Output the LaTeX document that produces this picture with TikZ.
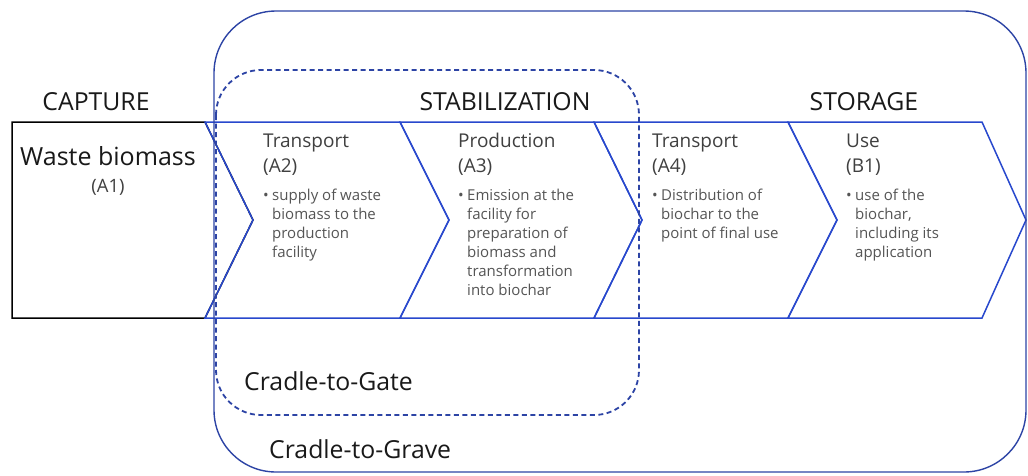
\documentclass[tikz,border=0pt]{standalone}
\usepackage{fontspec}
\setmainfont{Open Sans}
\definecolor{cblue}{RGB}{40,72,205}
\definecolor{rblue}{RGB}{45,68,165}
\definecolor{ttl}{RGB}{64,64,64}
\definecolor{bul}{RGB}{85,85,85}
\definecolor{hdr}{RGB}{25,25,25}
\begin{document}
\begin{tikzpicture}[x=1pt,y=-1pt,
  chev/.style={draw=cblue,line width=1.5pt,line join=miter},
  grave/.style={draw=rblue,line width=1.4pt,rounded corners=62pt},
  gate/.style={draw=rblue,line width=1.8pt,dash pattern=on 5pt off 3.5pt,rounded corners=45pt},
  hdrtext/.style={font=\fontsize{24.8}{28}\selectfont,text=hdr,inner sep=0pt,anchor=base},
  ttltext/.style={font=\fontsize{19}{24}\selectfont,text=ttl,inner sep=0pt,anchor=base west},
  bultext/.style={font=\fontsize{15}{19}\selectfont,text=bul,inner sep=0pt,anchor=base west},
  scopetext/.style={font=\fontsize{24.8}{28}\selectfont,text=hdr,inner sep=0pt,anchor=base west}]
\useasboundingbox (0,0) rectangle (1028,475);
\fill[white] (0,0) rectangle (1028,475);
% capture box
\draw[black,line width=1.5pt] (12,122) -- (205,122) -- (253,220) -- (205,318) -- (12,318) -- cycle;
% chevrons
\draw[chev] (205,122) -- (400,122) -- (449,220) -- (400,318) -- (205,318) -- (253,220) -- cycle;
\draw[chev] (400,122) -- (594,122) -- (642,220) -- (594,318) -- (400,318) -- (449,220) -- cycle;
\draw[chev] (594,122) -- (788,122) -- (837,220) -- (788,318) -- (594,318) -- (642,220) -- cycle;
\draw[chev] (788,122) -- (982,122) -- (1026,220) -- (982,318) -- (788,318) -- (837,220) -- cycle;
% scope boxes
\draw[grave] (214,11) rectangle (1026,472);
\draw[gate] (216,70) rectangle (639,415);
% headers
\node[hdrtext] (cap) at (96,110) {CAPTURE};
\node[hdrtext] (stab) at (505,110) {STABILIZATION};
\node[hdrtext] (stor) at (864,110) {STORAGE};
% waste biomass
\node[font=\fontsize{25}{32}\selectfont,text=hdr,inner sep=0pt,anchor=base] (wb) at (108,165) {Waste biomass};
\node[font=\fontsize{18.4}{22}\selectfont,text=ttl,inner sep=0pt,anchor=base] (a1) at (108,192) {(A1)};
% A2
\node[ttltext] (t2) at (263,147) {Transport};
\node[ttltext] (c2) at (263,172) {(A2)};
\node[bultext] (b2) at (263,200) {\makebox[9pt][l]{\textbullet}\parbox[t]{120pt}{supply of waste\\biomass to the\\production\\facility}};
% A3
\node[ttltext] (t3) at (458,147) {Production};
\node[ttltext] (c3) at (458,172) {(A3)};
\node[bultext] (b3) at (458,200) {\makebox[9pt][l]{\textbullet}\parbox[t]{120pt}{Emission at the\\facility for\\preparation of\\biomass and\\transformation\\into biochar}};
% A4
\node[ttltext] (t4) at (652,147) {Transport};
\node[ttltext] (c4) at (652,172) {(A4)};
\node[bultext] (b4) at (652,200) {\makebox[9pt][l]{\textbullet}\parbox[t]{130pt}{Distribution of\\biochar to the\\point of final use}};
% B1
\node[ttltext] (t5) at (846,147) {Use};
\node[ttltext] (c5) at (846,172) {(B1)};
\node[bultext] (b5) at (846,200) {\makebox[9pt][l]{\textbullet}\parbox[t]{120pt}{use of the\\biochar,\\including its\\application}};
% scope labels
\node[scopetext] (gate) at (244,390) {Cradle-to-Gate};
\node[scopetext] (grave) at (269,458) {Cradle-to-Grave};
\end{tikzpicture}
\end{document}
